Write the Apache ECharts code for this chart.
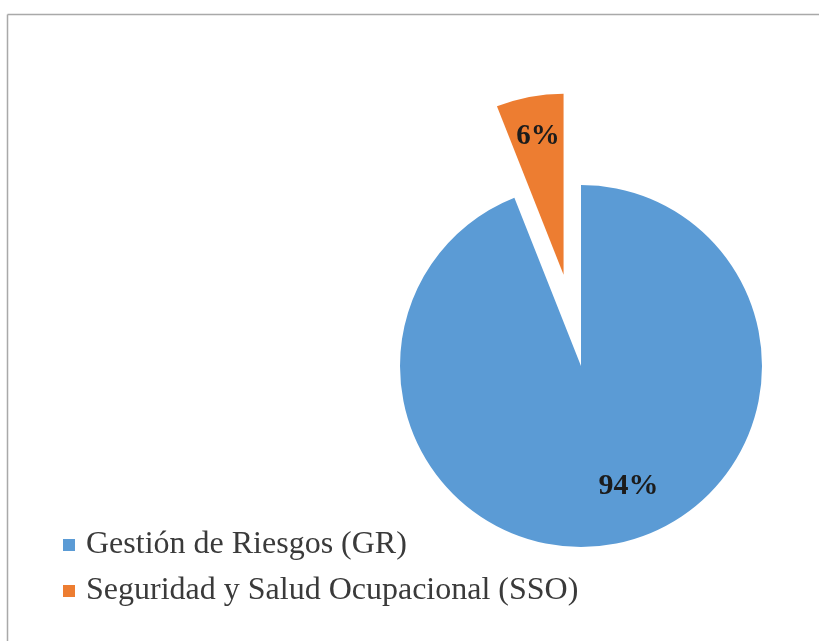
<!DOCTYPE html>
<html>
<head>
<meta charset="utf-8">
<script src="https://cdn.jsdelivr.net/npm/echarts@6/dist/echarts.min.js"></script>
<style>
  html, body { margin: 0; padding: 0; background: #ffffff; }
  #chart { width: 819px; height: 641px; }
</style>
</head>
<body>
<div id="chart"></div>
<script>
// Share of each management area
const categories = ['Gestión de Riesgos (GR)', 'Seguridad y Salud Ocupacional (SSO)'];
const shares = [94, 6];
const colors = ['#5B9BD5', '#ED7D31'];
// the small slice is pulled out of the pie
const pulledOut = [false, true];
// nudges of the percentage labels from their default inside spot
const labelShift = [[30, 28], [-8, -46]];
const labelSize = [30, 29];

const serif = '"Liberation Serif", "Times New Roman", serif';

const chart = echarts.init(document.getElementById('chart'), null, { renderer: 'canvas' });

chart.setOption({
  animation: false,
  backgroundColor: '#ffffff',
  color: colors,
  graphic: [
    { type: 'line', shape: { x1: 7.5, y1: 14.5, x2: 819, y2: 14.5 },
      style: { stroke: '#a9a9a9', lineWidth: 1.5 } },
    { type: 'line', shape: { x1: 7.5, y1: 14.5, x2: 7.5, y2: 641 },
      style: { stroke: '#a9a9a9', lineWidth: 1.5 } }
  ],
  legend: {
    orient: 'vertical',
    left: 58,
    top: 524,
    icon: 'rect',
    itemWidth: 12,
    itemHeight: 12,
    itemGap: 14,
    selectedMode: false,
    data: categories,
    textStyle: {
      fontFamily: serif,
      fontSize: 32,
      lineHeight: 30,
      color: '#3a3a3a',
      padding: [0, 0, 0, 6]
    }
  },
  series: [{
    type: 'pie',
    center: [581, 366],
    radius: [0, 181],
    startAngle: 90,
    clockwise: true,
    selectedMode: 'multiple',
    selectedOffset: 93,
    emphasis: { disabled: true },
    labelLine: { show: false },
    label: {
      show: true,
      position: 'inside',
      formatter: '{d}%',
      fontFamily: serif,
      fontWeight: 'bold',
      color: '#1c1c1c'
    },
    labelLayout: function (p) {
      const s = labelShift[p.dataIndex];
      return { dx: s[0], dy: s[1] };
    },
    data: categories.map((name, i) => ({
      name: name,
      value: shares[i],
      selected: pulledOut[i],
      itemStyle: { color: colors[i] },
      label: { fontSize: labelSize[i] }
    }))
  }]
});
</script>
</body>
</html>
